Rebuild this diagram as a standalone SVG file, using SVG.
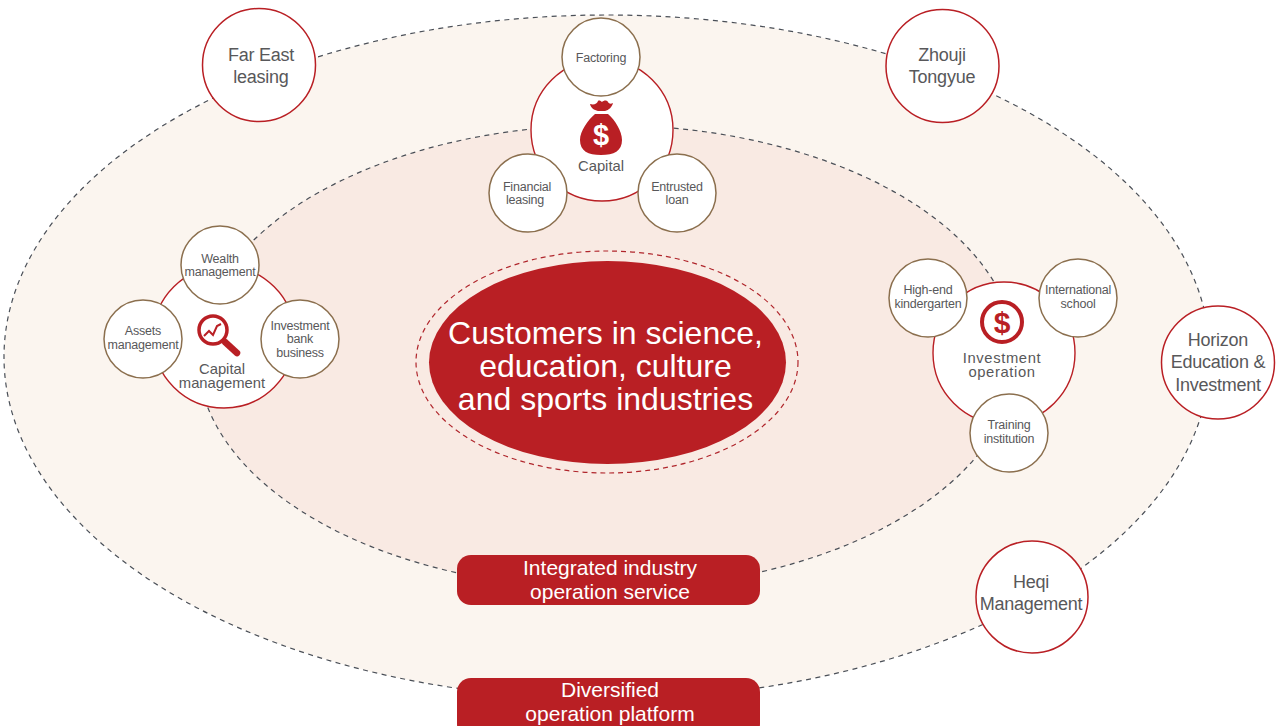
<svg xmlns="http://www.w3.org/2000/svg" width="1276" height="726" viewBox="0 0 1276 726">
<style>
text{font-family:"Liberation Sans",Arial,sans-serif;text-anchor:middle;fill:#58585a}
.orbit{stroke:#4a4f57;stroke-width:1.2;stroke-dasharray:5 4.5}
.hub{fill:#fff;stroke:#b91f24;stroke-width:1.4}
.sub{fill:#fff;stroke:#8b6f4e;stroke-width:1.5}
.ext{fill:#fff;stroke:#b91f24;stroke-width:1.5}
.s{font-size:12.5px;letter-spacing:-.2px}
.m{font-size:14.8px}
.wide{letter-spacing:.6px}
.l{font-size:18px;letter-spacing:-.25px}
.w{fill:#fff;font-size:21px}
.c{fill:#fff;font-size:32px}
.bar{fill:#b91f24}
.ic{fill:#b91f24}
</style>
<rect width="1276" height="726" fill="#fff"/>
<g id="connectors" fill="none">
<ellipse cx="607" cy="357" rx="603" ry="342" fill="#fbf5ef" class="orbit"/>
<ellipse cx="607" cy="357" rx="409" ry="232" fill="#f9eae3" class="orbit"/>
<ellipse cx="607" cy="362" rx="191" ry="111" stroke="#b0262c" stroke-width="1.2" stroke-dasharray="5 4"/>
</g>
<g id="center">
<ellipse cx="607.5" cy="362.5" rx="178.5" ry="101.5" fill="#b91f24"/>
<text class="c" x="605.5" y="344">Customers in science,</text>
<text class="c" x="605.5" y="377">education, culture</text>
<text class="c" x="605.5" y="410">and sports industries</text>
</g>
<g id="capital">
<circle class="hub" cx="602" cy="130" r="71"/>
<path class="ic" d="M590 104c4 1 7 0 8-3 1-1 3 0 4 1 2-2 5-2 6 0 1 2 3 2 5 1-1 4-4 7-8 8h-7c-4-1-7-3-8-7zM595 114h13c7 6 14 17 14 26 0 11-8 15-21 15s-21-4-21-15c0-9 8-20 15-26z"/>
<text x="601" y="145" style="font-size:29px;font-weight:bold;fill:#fff">$</text>
<text class="m" x="601" y="171">Capital</text>
</g>
<g id="factoring"><circle class="sub" cx="601" cy="57" r="39"/><text class="s" x="601" y="62">Factoring</text></g>
<g id="financial-leasing"><circle class="sub" cx="528" cy="193" r="39"/><text class="s" x="527" y="191">Financial</text><text class="s" x="525" y="204">leasing</text></g>
<g id="entrusted-loan"><circle class="sub" cx="677" cy="193" r="39"/><text class="s" x="677" y="191">Entrusted</text><text class="s" x="677" y="204">loan</text></g>
<g id="capital-management">
<circle class="hub" cx="224" cy="337" r="71"/>
<circle cx="213" cy="330" r="14" fill="#fff" stroke="#b91f24" stroke-width="3.5"/>
<path d="M225 342l12 11" stroke="#b91f24" stroke-width="6.5" stroke-linecap="round"/>
<path d="M204 336l5-5 4 4 4-9 4-2" fill="none" stroke="#b91f24" stroke-width="2"/>
<text class="m" x="222" y="374">Capital</text><text class="m" x="222" y="388">management</text>
</g>
<g id="wealth-management"><circle class="sub" cx="220" cy="265" r="39"/><text class="s" x="220" y="263">Wealth</text><text class="s" x="220" y="276">management</text></g>
<g id="assets-management"><circle class="sub" cx="143" cy="339" r="39"/><text class="s" x="143" y="335">Assets</text><text class="s" x="143" y="349">management</text></g>
<g id="investment-bank"><circle class="sub" cx="300" cy="339" r="39"/><text class="s" x="300" y="330">Investment</text><text class="s" x="300" y="343">bank</text><text class="s" x="300" y="357">business</text></g>
<g id="investment-operation">
<circle class="hub" cx="1004" cy="353" r="71"/>
<circle cx="1002" cy="322" r="20" fill="#fff" stroke="#b91f24" stroke-width="4"/>
<text x="1002" y="333" style="font-size:30px;font-weight:bold;fill:#b91f24">$</text>
<text class="m wide" x="1002" y="363">Investment</text><text class="m wide" x="1002" y="377">operation</text>
</g>
<g id="high-end-kindergarten"><circle class="sub" cx="928" cy="298" r="39"/><text class="s" x="928" y="294">High-end</text><text class="s" x="928" y="308">kindergarten</text></g>
<g id="international-school"><circle class="sub" cx="1078" cy="298" r="39"/><text class="s" x="1078" y="294">International</text><text class="s" x="1078" y="308">school</text></g>
<g id="training-institution"><circle class="sub" cx="1009" cy="433" r="39"/><text class="s" x="1009" y="429">Training</text><text class="s" x="1009" y="443">institution</text></g>
<g id="far-east"><circle class="ext" cx="259" cy="65" r="56.5"/><text class="l" x="261" y="61">Far East</text><text class="l" x="261" y="83">leasing</text></g>
<g id="zhouji"><circle class="ext" cx="942.5" cy="66" r="56.5"/><text class="l" x="942" y="61">Zhouji</text><text class="l" x="942" y="83">Tongyue</text></g>
<g id="horizon"><circle class="ext" cx="1218" cy="362.5" r="56.5"/><text class="l" x="1218" y="346">Horizon</text><text class="l" x="1218" y="368">Education &amp;</text><text class="l" x="1218" y="391">Investment</text></g>
<g id="heqi"><circle class="ext" cx="1032" cy="597" r="56"/><text class="l" x="1031" y="588">Heqi</text><text class="l" x="1031" y="610">Management</text></g>
<g id="integrated"><rect class="bar" x="457" y="555" width="303" height="50" rx="14"/><text class="w" x="610" y="575">Integrated industry</text><text class="w" x="610" y="599">operation service</text></g>
<g id="diversified"><rect class="bar" x="457" y="678" width="303" height="60" rx="14"/><text class="w" x="610" y="697">Diversified</text><text class="w" x="610" y="721">operation platform</text></g>
</svg>
